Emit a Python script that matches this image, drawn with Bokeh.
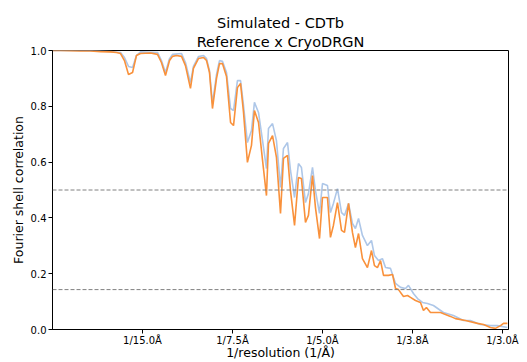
import math
from bokeh.plotting import figure
from bokeh.models import FixedTicker, Span, Range1d, Title
from bokeh.embed import file_html
from bokeh.resources import INLINE

FONT = "DejaVu Sans"

title_lines = ["Simulated - CDTb", "Reference x CryoDRGN"]
x_label = "1/resolution (1/Å)"
y_label = "Fourier shell correlation"
x_tick_values = [1 / 15.0, 1 / 7.5, 1 / 5.0, 1 / 3.75, 1 / 3.0]
x_tick_labels = ["1/15.0Å", "1/7.5Å", "1/5.0Å", "1/3.8Å", "1/3.0Å"]
y_tick_values = [0.0, 0.2, 0.4, 0.6, 0.8, 1.0]
thresholds = [0.5, 0.143]

# Reference FSC (light blue)
ref_x = [0.0, 0.0207, 0.0356, 0.0430, 0.0504, 0.0533, 0.0563, 0.0593, 0.0622, 0.0652,
         0.0778, 0.0807, 0.0837, 0.0867, 0.0889, 0.0956, 0.0985, 0.1022, 0.1044, 0.1081,
         0.1119, 0.1141, 0.1163, 0.1185, 0.1215, 0.1237, 0.1259, 0.1289, 0.1319, 0.1341,
         0.1370, 0.1393, 0.1415, 0.1444, 0.1474, 0.1496, 0.1526, 0.1556, 0.1585, 0.1600,
         0.1630, 0.1659, 0.1689, 0.1711, 0.1741, 0.1763, 0.1793, 0.1822, 0.1844, 0.1874,
         0.1896, 0.1926, 0.1948, 0.1978, 0.2000, 0.2037, 0.2059, 0.2081, 0.2111, 0.2141,
         0.2163, 0.2193, 0.2222, 0.2244, 0.2267, 0.2296, 0.2333, 0.2363, 0.2385, 0.2415,
         0.2444, 0.2467, 0.2504, 0.2541, 0.2578, 0.2615, 0.2637, 0.2674, 0.2704, 0.2741,
         0.2778, 0.2822, 0.2896, 0.2970, 0.3044, 0.3096, 0.3170, 0.3244, 0.3296, 0.3370]
ref_fsc = [1.0, 1.0, 0.998, 0.996, 0.993, 0.975, 0.943, 0.939, 0.982, 0.995,
           0.993, 0.964, 0.921, 0.971, 0.986, 0.989, 0.957, 0.885, 0.943, 0.978,
           0.982, 0.971, 0.928, 0.810, 0.914, 0.964, 0.961, 0.921, 0.792, 0.785,
           0.892, 0.892, 0.803, 0.670, 0.713, 0.814, 0.778, 0.677, 0.577, 0.720,
           0.738, 0.677, 0.509, 0.649, 0.670, 0.570, 0.473, 0.595, 0.581, 0.455,
           0.487, 0.581, 0.498, 0.416, 0.523, 0.516, 0.419, 0.452, 0.505, 0.419,
           0.409, 0.452, 0.380, 0.362, 0.398, 0.337, 0.301, 0.319, 0.265, 0.247,
           0.254, 0.222, 0.219, 0.165, 0.151, 0.147, 0.158, 0.129, 0.111, 0.097,
           0.093, 0.086, 0.061, 0.050, 0.032, 0.032, 0.018, 0.014, 0.014, 0.007]

# CryoDRGN FSC (orange)
drgn_x = [0.0, 0.0059, 0.0133, 0.0207, 0.0281, 0.0356, 0.0430, 0.0474, 0.0504, 0.0533,
          0.0563, 0.0593, 0.0622, 0.0652, 0.0726, 0.0778, 0.0807, 0.0837, 0.0867, 0.0889,
          0.0919, 0.0956, 0.0985, 0.1022, 0.1044, 0.1081, 0.1119, 0.1141, 0.1163, 0.1185,
          0.1215, 0.1237, 0.1259, 0.1289, 0.1319, 0.1341, 0.1370, 0.1393, 0.1415, 0.1444,
          0.1474, 0.1496, 0.1526, 0.1556, 0.1585, 0.1600, 0.1630, 0.1659, 0.1689, 0.1711,
          0.1741, 0.1763, 0.1793, 0.1822, 0.1844, 0.1874, 0.1896, 0.1926, 0.1948, 0.1978,
          0.2000, 0.2037, 0.2059, 0.2081, 0.2111, 0.2141, 0.2163, 0.2193, 0.2222, 0.2244,
          0.2267, 0.2296, 0.2333, 0.2363, 0.2385, 0.2407, 0.2430, 0.2452, 0.2489, 0.2519,
          0.2541, 0.2563, 0.2600, 0.2630, 0.2652, 0.2689, 0.2726, 0.2748, 0.2770, 0.2800,
          0.2874, 0.2948, 0.2985, 0.3059, 0.3148, 0.3193, 0.3244, 0.3281, 0.3319, 0.3341,
          0.3370]
drgn_fsc = [1.0, 1.0, 0.999, 0.998, 0.998, 0.996, 0.995, 0.993, 0.989, 0.964,
            0.914, 0.921, 0.982, 0.989, 0.991, 0.986, 0.957, 0.910, 0.964, 0.979,
            0.982, 0.979, 0.946, 0.864, 0.936, 0.971, 0.975, 0.964, 0.921, 0.792,
            0.900, 0.953, 0.953, 0.907, 0.742, 0.731, 0.867, 0.882, 0.778, 0.599,
            0.660, 0.785, 0.742, 0.606, 0.480, 0.667, 0.695, 0.617, 0.416, 0.613,
            0.624, 0.498, 0.373, 0.545, 0.541, 0.384, 0.409, 0.552, 0.437, 0.326,
            0.473, 0.473, 0.330, 0.373, 0.455, 0.355, 0.348, 0.452, 0.348, 0.294,
            0.344, 0.254, 0.222, 0.283, 0.229, 0.222, 0.247, 0.194, 0.194, 0.197,
            0.147, 0.143, 0.118, 0.122, 0.115, 0.104, 0.097, 0.068, 0.079, 0.061,
            0.061, 0.047, 0.039, 0.032, 0.022, 0.018, 0.007, 0.004, 0.014, 0.022,
            0.022]

W, H = 527, 362
LEFT, RIGHT, TOP, BOTTOM = 52, 19, 50, 33

p = figure(width=W, height=H, output_backend="svg", toolbar_location=None,
           x_range=Range1d(0.0, 0.3378), y_range=Range1d(0.0, 1.0),
           min_border_left=LEFT, min_border_right=RIGHT,
           min_border_top=TOP, min_border_bottom=BOTTOM,
           background_fill_color="white", border_fill_color="white")
p.grid.visible = False
p.outline_line_color = "black"
p.outline_line_width = 1
p.outline_line_alpha = 1.0

# two-line title: the line added with add_layout sits nearest the frame
p.title.text = title_lines[0]
p.title.align = "center"
p.title.text_font = FONT
p.title.text_font_size = "14.5px"
p.title.text_font_style = "normal"
p.title.text_color = "black"
p.title.standoff = 0
p.add_layout(Title(text=title_lines[1], align="center", text_font=FONT,
                   text_font_size="14.5px", text_font_style="normal",
                   text_color="black", standoff=2), "above")

for ax in (p.xaxis[0], p.yaxis[0]):
    ax.major_tick_out = 4
    ax.major_tick_in = 0
    ax.minor_tick_out = 0
    ax.minor_tick_in = 0
    ax.axis_line_color = "black"
    ax.major_tick_line_color = "black"
    ax.major_label_text_font = FONT
    ax.major_label_text_font_size = "10px"
    ax.major_label_text_color = "black"
    ax.axis_label_text_font = FONT
    ax.axis_label_text_font_size = "12.5px"
    ax.axis_label_text_font_style = "normal"
    ax.axis_label_text_color = "black"

p.yaxis.major_label_standoff = 2
p.yaxis.axis_label_standoff = 2
p.xaxis.major_label_standoff = 1
p.xaxis.axis_label_standoff = -4

p.xaxis.axis_label = x_label
p.yaxis.axis_label = y_label
p.xaxis.ticker = FixedTicker(ticks=x_tick_values)
p.xaxis.major_label_overrides = {v: t for v, t in zip(x_tick_values, x_tick_labels)}
p.yaxis.ticker = FixedTicker(ticks=y_tick_values)
p.yaxis.major_label_overrides = {v: f"{v:.1f}" for v in y_tick_values}

for t in thresholds:
    p.add_layout(Span(location=t, dimension="width", line_color="#808080",
                      line_width=1, line_dash="4 2"))

p.line(ref_x, ref_fsc, line_color="#aec7e8", line_width=1.6)
p.line(drgn_x, drgn_fsc, line_color="#f9913b", line_width=1.6)

open("out.html", "w").write(file_html(p, INLINE))
